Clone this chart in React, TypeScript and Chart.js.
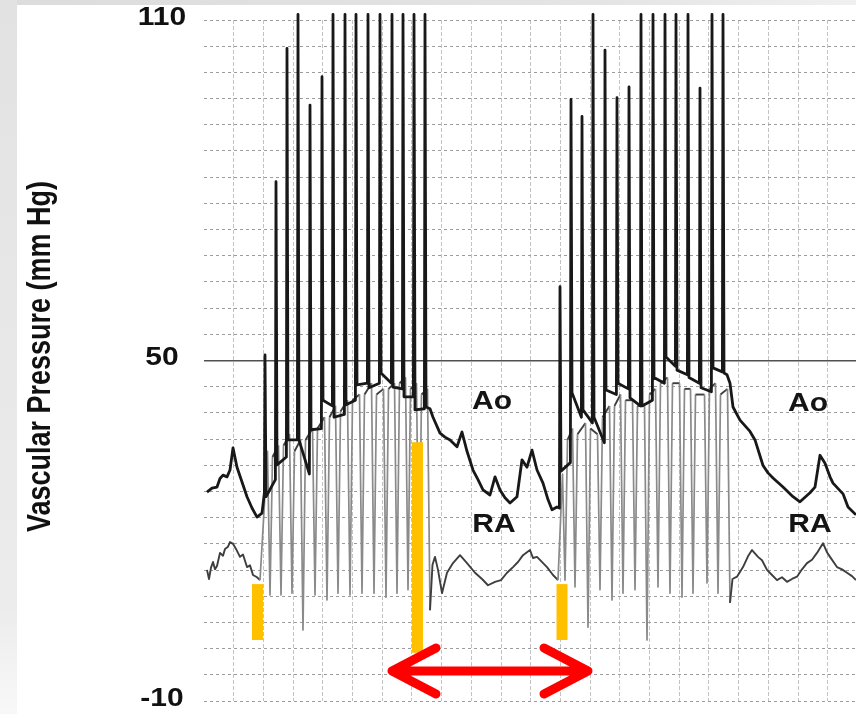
import React, { useEffect, useRef } from 'react';
import { Chart, registerables } from 'chart.js';

Chart.register(...registerables);

const FONT = "'Liberation Sans', Arial, Helvetica, sans-serif";

// ---------- axes ----------
const Y_MIN = -10;
const Y_MAX = 110;
const Y_TICK_LABELS = [110, 50, -10];
const Y_GRID_DIVISIONS = 26;
const Y_TITLE = 'Vascular Pressure (mm Hg)';
const X_MAX = 652; // time, 10-ms units from the left edge of the trace
const X_GRID_STEP = 29.7;

// ---------- Ao (aortic) trace ----------
const AO_LEAD_IN = [
  [3, 26.8], [8, 27.5], [13, 27.7], [16, 29.2], [19, 29.8], [23, 29.5], [26, 30.7], [29, 34.6],
  [33, 31.2], [38, 28.6], [43, 26.0], [48, 24.0], [53, 22.4], [58, 23.1],
];
const BURST1_T = [61, 72, 83, 94, 106, 118, 129, 141, 152, 164, 176, 188, 199, 210, 221];
const BURST1_PEAK = [51, 81.5, 105, 111, 95, 100, 111, 111, 111, 111, 111, 111, 111, 111, 111];
const BURST1_PRE = [26.7, 29, 33, 36, 30, 38, 42, 40.5, 43, 46, 46, 46, 45, 43.6, 41.5];
const BURST1_POST = [26, 31.6, 36, 36, 37.8, 43, 40, 42.2, 45.7, 45.2, 47.8, 45.3, 43.6, 41.3, 41.8];
const AO_BETWEEN = [
  [226, 41.5], [229, 40], [236, 37.2], [241, 36.5], [246, 36], [253, 34.8], [258, 37.4], [263, 34],
  [269, 30.7], [274, 29], [279, 27.2], [286, 26.3], [291, 29.5], [296, 27.2], [301, 25.8], [306, 24.9],
  [313, 26], [318, 32.5], [323, 31.2], [328, 34.2], [333, 30.7], [339, 28.4], [344, 25.5], [348, 23.7],
  [353, 24.2],
];
const BURST2_T = [356, 367, 378, 389, 401, 413, 425, 437, 449, 461, 472, 484, 496, 508, 519];
const BURST2_PEAK = [63, 96, 93, 111, 104.7, 96.3, 98.2, 111, 111, 111, 111, 111, 98, 111, 111];
const BURST2_PRE = [24, 32, 40, 39, 35.5, 44, 45, 42, 43, 46, 49, 47.5, 46, 44.5, 48];
const BURST2_POST = [30.5, 44.3, 41.3, 40, 44.8, 46, 43.4, 42, 47, 50.6, 48.3, 47, 45.2, 48.7, 47.8];
const AO_TAIL = [
  [523, 47.5], [526, 46], [529, 41.8], [536, 39.5], [542, 38.3], [546, 37.5], [551, 36], [559, 31.5],
  [564, 30.2], [569, 29.3], [579, 27.7], [589, 26], [596, 25.1], [606, 26.7], [611, 27.7], [616, 33.3],
  [621, 31.9], [626, 29.5], [629, 28.4], [639, 26.5], [644, 24.2], [652, 22.8],
];

// ---------- RA (right atrial) trace ----------
const RA_LEAD_IN = [
  [3, 13.1], [5, 11.5], [7, 13.5], [9, 14.5], [11, 13.2], [13, 13.8], [16, 16.1], [19, 15.6],
  [21, 16.8], [24, 17.2], [26, 18], [29, 17.7], [32, 16.8], [36, 15.4], [39, 15.8], [43, 13.6],
  [46, 13.9], [49, 12.2], [53, 11.8], [56, 11.3],
];
// each paced beat: RA high, sharp drop to a trough, sharp rise back
const RA_B1_TOP = [34, 35, 37, 36, 38, 40, 42, 43, 44, 46, 45, 46, 47, 46, 45];
const RA_B1_BOTTOM_T = [66, 77, 88, 99, 111, 123, 134, 146, 158, 170, 182, 193, 204, 215, 226];
const RA_B1_BOTTOM = [8.7, 8.7, 9.0, 2.5, 8.7, 7.8, 9.0, 8.7, 9.0, 9.0, 8.3, 9.0, 9.6, 8.7, 6.0];
const RA_B1_RISE = [33, 35, 34, 36, 38, 40, 41, 43, 44, 44, 45, 46, 45, 44, 14];
const RA_BETWEEN = [
  [231, 15.4], [234, 13.1], [238, 9], [243, 12.6], [249, 14.3], [256, 15.7], [263, 14.3], [271, 12.6],
  [278, 11.5], [284, 10.4], [291, 11], [297, 11.3], [303, 12.6], [309, 13.6], [314, 14.5], [319, 15.7],
  [326, 16.6], [329, 15.2], [333, 15.4], [343, 13.6], [349, 12.2], [354, 11.3],
];
const RA_B2_TOP = [30, 38, 39, 37, 42, 44, 43, 42, 45, 47, 46, 45, 44, 46, 45];
const RA_B2_BOTTOM_T = [361, 371, 384, 396, 408, 419, 431, 443, 454, 466, 478, 489, 503, 514, 526];
const RA_B2_BOTTOM = [11.3, 10.1, 3.0, 9.6, 7.8, 9.0, 9.6, 0.75, 10.1, 9.0, 8.3, 9.0, 10.8, 9.0, 7.3];
const RA_B2_RISE = [36, 37, 38, 40, 42, 43, 42, 44, 46, 46, 45, 44, 45, 44, 11.5];
const RA_TAIL = [
  [533, 11.9], [539, 13.6], [544, 15.5], [548, 16.6], [554, 15.4], [558, 14.8], [563, 13.1], [568, 12.2],
  [573, 11.3], [578, 11.8], [583, 11], [588, 11.5], [593, 11.9], [598, 13.2], [603, 14.3], [608, 14.9],
  [613, 16.1], [619, 17.8], [623, 16.2], [626, 15.4], [633, 13.6], [638, 13.2], [643, 12.6], [648, 12.0],
  [652, 11.3],
];

// ---------- annotations ----------
const MARKER_T = [53.5, 213.5, 358];
const MARKER_LOW = [0.75, -1.5, 0.75];
const MARKER_HIGH = [10.6, 35.6, 10.6];
const ARROW_T = [184, 388];
const ARROW_LEVEL = -4.7;
const TRACE_LABELS = ['Ao', 'RA', 'Ao', 'RA'];
const TRACE_LABEL_T = [288, 290, 604, 606];
const TRACE_LABEL_V = [42.6, 21.0, 42.4, 21.0];

type P = { x: number; y: number };
const pts = (arr: number[][]): P[] => arr.map(([x, y]) => ({ x, y }));

function spikes(times: number[], pre: number[], peak: number[], post: number[]): P[] {
  const out: P[] = [];
  times.forEach((t, i) => {
    out.push({ x: t - 0.6, y: pre[i] }, { x: t, y: peak[i] }, { x: t + 1.0, y: post[i] });
  });
  return out;
}

function raBeats(tops: number[], bottomT: number[], bottoms: number[], rises: number[]): P[] {
  const out: P[] = [];
  bottomT.forEach((t, i) => {
    out.push({ x: t - 2.5, y: tops[i] }, { x: t, y: bottoms[i] }, { x: t + 2.5, y: rises[i] });
  });
  return out;
}

const isFifty = (v: any) => typeof v === 'number' && Math.abs(v - 50) < 1e-6;
const steep = (c: any) => Math.abs(c.p1.parsed.y - c.p0.parsed.y) > 15;

export default function App() {
  const ref = useRef<HTMLCanvasElement>(null);

  useEffect(() => {
    const canvas = ref.current;
    if (!canvas) return;

    const ao: P[] = [
      ...pts(AO_LEAD_IN),
      ...spikes(BURST1_T, BURST1_PRE, BURST1_PEAK, BURST1_POST),
      ...pts(AO_BETWEEN),
      ...spikes(BURST2_T, BURST2_PRE, BURST2_PEAK, BURST2_POST),
      ...pts(AO_TAIL),
    ];
    const ra: P[] = [
      ...pts(RA_LEAD_IN),
      ...raBeats(RA_B1_TOP, RA_B1_BOTTOM_T, RA_B1_BOTTOM, RA_B1_RISE),
      ...pts(RA_BETWEEN),
      ...raBeats(RA_B2_TOP, RA_B2_BOTTOM_T, RA_B2_BOTTOM, RA_B2_RISE),
      ...pts(RA_TAIL),
    ];

    const decor = {
      id: 'decor',
      beforeDraw(chart: any) {
        const { ctx, width, height } = chart;
        ctx.save();
        ctx.fillStyle = '#ffffff';
        ctx.fillRect(0, 0, width, height);
        const g = ctx.createLinearGradient(0, 0, 0, height);
        g.addColorStop(0, '#e2e2e2');
        g.addColorStop(0.85, '#ececec');
        g.addColorStop(1, '#f8f8f8');
        ctx.fillStyle = g;
        ctx.fillRect(0, 0, 17, height);
        const gt = ctx.createLinearGradient(0, 0, width, 0);
        gt.addColorStop(0, '#dcdcdc');
        gt.addColorStop(0.7, '#e4e4e4');
        gt.addColorStop(1, '#f0f0f0');
        ctx.fillStyle = gt;
        ctx.fillRect(17, 0, width - 17, 5);
        ctx.restore();
      },
      afterDatasetsDraw(chart: any) {
        const { ctx, scales, chartArea } = chart;
        const xs = scales.x;
        const ys = scales.y;
        ctx.save();

        // yellow markers
        ctx.fillStyle = '#FFC000';
        MARKER_T.forEach((t, i) => {
          const x = xs.getPixelForValue(t);
          const y1 = ys.getPixelForValue(MARKER_HIGH[i]);
          const y2 = ys.getPixelForValue(MARKER_LOW[i]);
          ctx.fillRect(x - 5.5, y1, 11, y2 - y1);
        });

        // red double arrow
        const x1 = xs.getPixelForValue(ARROW_T[0]) + 4;
        const x2 = xs.getPixelForValue(ARROW_T[1]) - 4;
        const ya = ys.getPixelForValue(ARROW_LEVEL);
        ctx.strokeStyle = '#FF0000';
        ctx.lineWidth = 9;
        ctx.lineCap = 'round';
        ctx.lineJoin = 'round';
        ctx.beginPath();
        ctx.moveTo(x1, ya);
        ctx.lineTo(x2, ya);
        ctx.moveTo(x1 + 44, ya - 23);
        ctx.lineTo(x1, ya);
        ctx.lineTo(x1 + 44, ya + 23);
        ctx.moveTo(x2 - 44, ya - 23);
        ctx.lineTo(x2, ya);
        ctx.lineTo(x2 - 44, ya + 23);
        ctx.stroke();

        // trace labels
        ctx.fillStyle = '#141414';
        ctx.font = `bold 25px ${FONT}`;
        ctx.textAlign = 'center';
        ctx.textBaseline = 'middle';
        TRACE_LABELS.forEach((txt, i) => {
          ctx.save();
          ctx.translate(xs.getPixelForValue(TRACE_LABEL_T[i]), ys.getPixelForValue(TRACE_LABEL_V[i]));
          ctx.scale(1.2, 1);
          ctx.fillText(txt, 0, 0);
          ctx.restore();
        });

        // y tick labels
        ctx.fillStyle = '#111111';
        Y_TICK_LABELS.forEach((v) => {
          ctx.save();
          ctx.translate(162, ys.getPixelForValue(v) - 2);
          ctx.scale(1.2, 1);
          ctx.fillText(String(v), 0, 0);
          ctx.restore();
        });

        // y title
        ctx.save();
        ctx.font = `bold 27px ${FONT}`;
        ctx.translate(41, (chartArea.top + chartArea.bottom) / 2 - 4);
        ctx.scale(1.2, 1);
        ctx.rotate(-Math.PI / 2);
        ctx.fillText(Y_TITLE, 0, 0);
        ctx.restore();

        ctx.restore();
      },
    };

    const clip = { left: 0, top: 10, right: 0, bottom: 0 };

    const chart = new Chart(canvas, {
      type: 'line',
      data: {
        datasets: [
          {
            label: 'Ao',
            data: ao,
            borderColor: '#181818',
            borderWidth: 2.8,
            pointRadius: 0,
            tension: 0,
            borderJoinStyle: 'round',
            clip,
          } as any,
          {
            label: 'RA',
            data: ra,
            borderColor: '#3e3e3e',
            borderWidth: 1.9,
            pointRadius: 0,
            tension: 0,
            borderJoinStyle: 'round',
            clip,
            segment: {
              borderColor: (c: any) => (steep(c) ? '#8a8a8a' : undefined),
              borderWidth: (c: any) => (steep(c) ? 1.7 : undefined),
            },
          } as any,
        ],
      },
      options: {
        responsive: false,
        maintainAspectRatio: false,
        devicePixelRatio: 1,
        animation: false,
        events: [],
        layout: { padding: { left: 0, right: 0, top: 20, bottom: 13 } },
        plugins: { legend: { display: false }, tooltip: { enabled: false }, title: { display: false } },
        scales: {
          x: {
            type: 'linear',
            min: 0,
            max: X_MAX,
            afterBuildTicks: (s: any) => {
              const t: any[] = [];
              for (let k = 1; k * X_GRID_STEP < X_MAX; k++) t.push({ value: k * X_GRID_STEP });
              s.ticks = t;
            },
            afterFit: (s: any) => {
              s.height = 0;
            },
            ticks: { display: false },
            grid: { color: '#c3c3c3', lineWidth: 1, drawTicks: false },
            border: { display: false, dash: [4, 2] },
          },
          y: {
            type: 'linear',
            min: Y_MIN,
            max: Y_MAX,
            afterBuildTicks: (s: any) => {
              const step = (Y_MAX - Y_MIN) / Y_GRID_DIVISIONS;
              const t: any[] = [];
              for (let k = 0; k <= Y_GRID_DIVISIONS; k++) {
                t.push({ value: Math.round((Y_MAX - k * step) * 1e6) / 1e6 });
              }
              s.ticks = t;
            },
            afterFit: (s: any) => {
              s.width = 204;
            },
            ticks: { display: false },
            grid: {
              drawTicks: false,
              color: (c: any) => (isFifty(c.tick && c.tick.value) ? '#505050' : '#9c9c9c'),
              lineWidth: (c: any) => (isFifty(c.tick && c.tick.value) ? 1.5 : 1),
            },
            border: {
              display: false,
              dash: (c: any) => (isFifty(c.tick && c.tick.value) ? [] : [3, 3]),
            },
          },
        },
      },
      plugins: [decor],
    } as any);

    return () => chart.destroy();
  }, []);

  return (
    <div style={{ position: 'fixed', left: 0, top: 0, width: 856, height: 714, background: '#fff' }}>
      <canvas ref={ref} width={856} height={714} style={{ display: 'block', width: 856, height: 714 }} />
    </div>
  );
}
